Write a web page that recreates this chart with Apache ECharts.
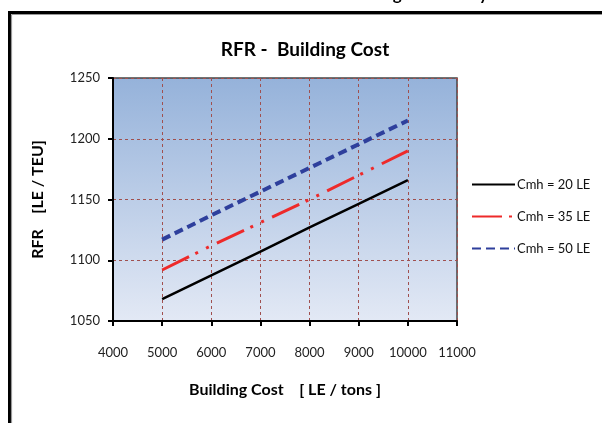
<!DOCTYPE html>
<html>
<head>
<meta charset="utf-8">
<script src="https://cdn.jsdelivr.net/npm/echarts@6/dist/echarts.min.js"></script>
<style>
html,body{margin:0;padding:0;background:#fff;}
#chart{width:602px;height:423px;}
</style>
</head>
<body>
<div id="chart"></div>
<script>
const buildingCost = [5000, 6000, 7000, 8000, 9000, 10000];
const rfrCmh20 = [1068, 1087.5, 1107, 1127, 1146.5, 1166];
const rfrCmh35 = [1092, 1112, 1131, 1150, 1170, 1190];
const rfrCmh50 = [1117, 1137, 1156.5, 1176, 1195.5, 1215];
const seriesNames = ['Cmh = 20 LE', 'Cmh = 35 LE', 'Cmh = 50 LE'];
const xTicks = [4000, 5000, 6000, 7000, 8000, 9000, 10000, 11000];
const yTicks = [1050, 1100, 1150, 1200, 1250];

const FONT = 'Lato, "Open Sans", sans-serif';
const pairs = (ys) => buildingCost.map((x, i) => [x, ys[i]]);

const chart = echarts.init(document.getElementById('chart'), null, {renderer: 'canvas'});
chart.setOption({
  backgroundColor: '#ffffff',
  animation: false,
  title: {
    text: 'RFR -  Building Cost',
    left: 300, textAlign: 'center', top: 35,
    textStyle: {fontFamily: FONT, fontSize: 19, fontWeight: 'bold', color: '#000'}
  },
  grid: {
    left: 113, right: 145, top: 78, bottom: 102,
    show: true,
    borderColor: '#444', borderWidth: 1.5,
    backgroundColor: {
      type: 'linear', x: 0, y: 0, x2: 0, y2: 1,
      colorStops: [{offset: 0, color: '#95b2da'}, {offset: 1, color: '#e3e9f5'}]
    }
  },
  legend: {
    orient: 'vertical', left: 466, top: 173,
    itemWidth: 43, itemHeight: 14, itemGap: 19,
    data: seriesNames,
    itemStyle: {opacity: 0},
    textStyle: {fontFamily: FONT, fontSize: 13, color: '#111', padding: [0, 0, 0, -3]}
  },
  xAxis: {
    type: 'value', min: xTicks[0], max: xTicks[xTicks.length - 1], interval: 1000,
    name: 'Building Cost    [ LE / tons ]', nameLocation: 'middle', nameGap: 61,
    nameTextStyle: {fontFamily: FONT, fontSize: 16, fontWeight: 'bold', color: '#000'},
    axisLine: {lineStyle: {color: '#000', width: 2}},
    axisTick: {show: true, length: 5, lineStyle: {color: '#000', width: 2}},
    axisLabel: {fontFamily: FONT, fontSize: 13, color: '#222', margin: 25, formatter: (v) => String(v)},
    splitLine: {show: true, lineStyle: {color: '#a0504f', type: [3, 3], width: 1}}
  },
  yAxis: {
    type: 'value', min: yTicks[0], max: yTicks[yTicks.length - 1], interval: 50,
    name: 'RFR    [LE / TEU]', nameLocation: 'middle', nameGap: 67,
    nameTextStyle: {fontFamily: FONT, fontSize: 16, fontWeight: 'bold', color: '#000'},
    axisLine: {show: true, lineStyle: {color: '#000', width: 2}},
    axisTick: {show: true, length: 5, lineStyle: {color: '#000', width: 2}},
    axisLabel: {fontFamily: FONT, fontSize: 13, color: '#222', margin: 13, formatter: (v) => String(v)},
    splitLine: {show: true, lineStyle: {color: '#a0504f', type: [3, 3], width: 1}}
  },
  series: [
    {name: seriesNames[0], type: 'line', data: pairs(rfrCmh20), symbol: 'none',
     lineStyle: {color: '#000', width: 2.5}, itemStyle: {color: '#000'}},
    {name: seriesNames[1], type: 'line', data: pairs(rfrCmh35), symbol: 'none',
     lineStyle: {color: '#ee2a2a', width: 3, type: [30, 7, 3, 9, 3, 9]}, itemStyle: {color: '#ee2a2a'}},
    {name: seriesNames[2], type: 'line', data: pairs(rfrCmh50), symbol: 'none',
     lineStyle: {color: '#2e3f9c', width: 4, type: [9, 5]}, itemStyle: {color: '#2e3f9c'}}
  ],
  graphic: [
    {type: 'text', left: 340, top: -14, z: 10,
     style: {text: 'Building Cost Study', fontFamily: FONT, fontSize: 17, fontWeight: 'bold', fill: '#000'}},
    {type: 'line', shape: {x1: 9.5, y1: 12.5, x2: 700, y2: 12.5}, style: {stroke: '#000', lineWidth: 3}, z: 10},
    {type: 'line', shape: {x1: 9.5, y1: 11, x2: 9.5, y2: 500}, style: {stroke: '#000', lineWidth: 3}, z: 10},
    {type: 'line', shape: {x1: 11.5, y1: 14.5, x2: 700, y2: 14.5}, style: {stroke: '#999', lineWidth: 1.2}, z: 10},
    {type: 'line', shape: {x1: 11.5, y1: 14.5, x2: 11.5, y2: 500}, style: {stroke: '#999', lineWidth: 1.2}, z: 10}
  ]
});
</script>
</body>
</html>
